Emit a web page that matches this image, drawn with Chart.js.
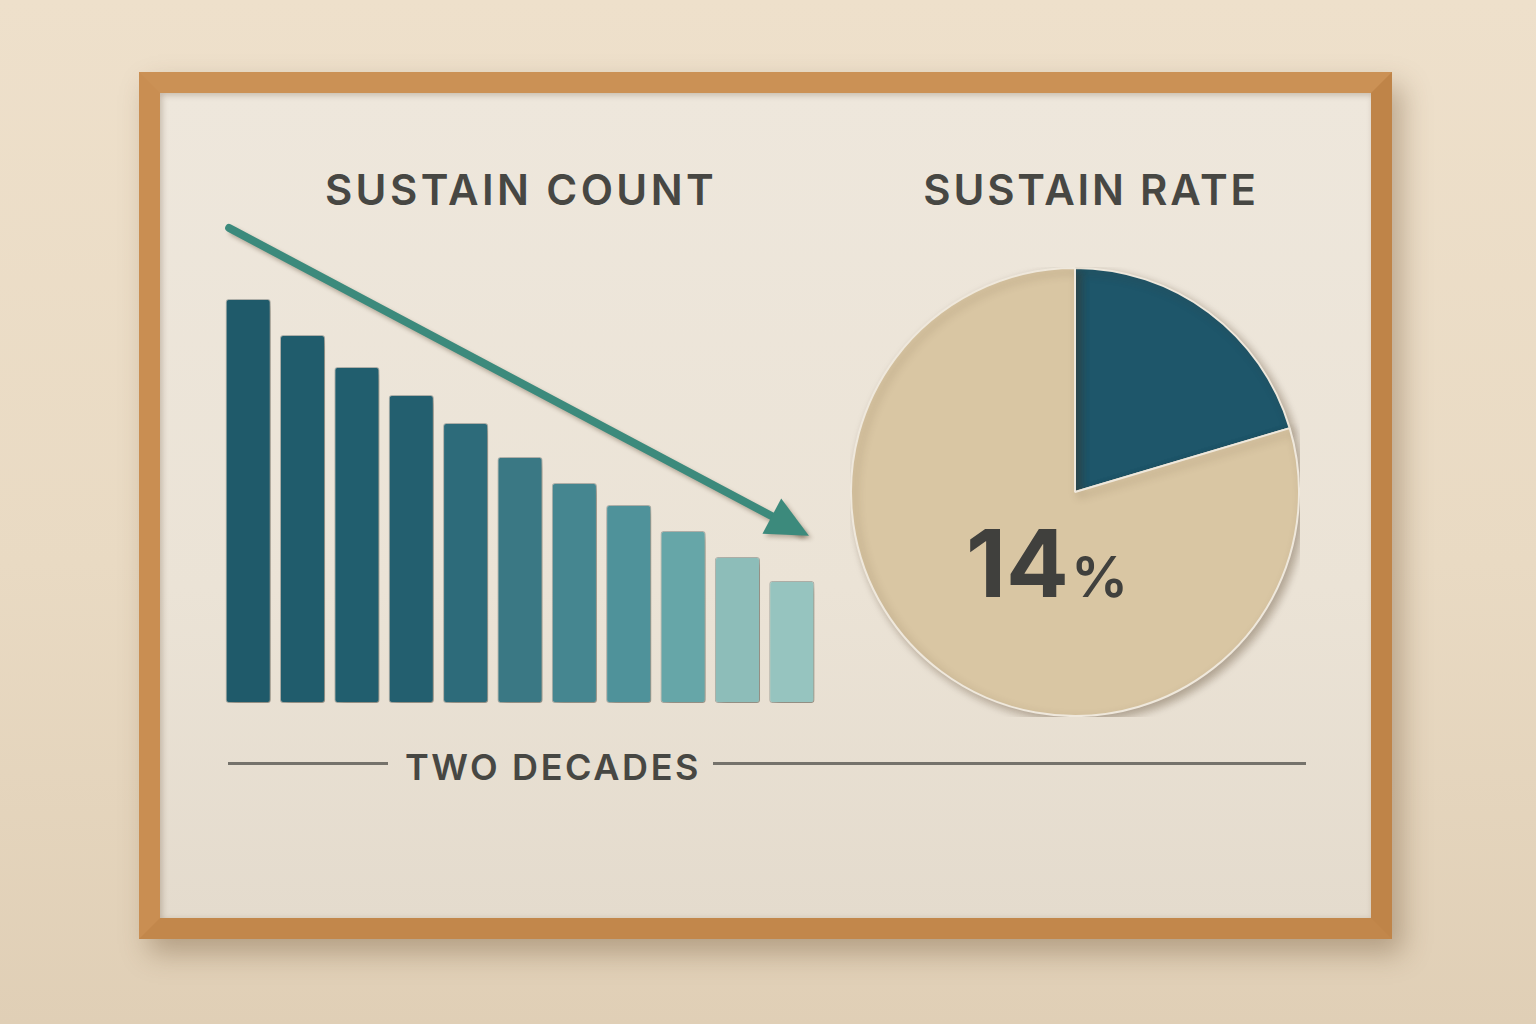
<!DOCTYPE html>
<html>
<head>
<meta charset="utf-8">
<script src="https://cdn.jsdelivr.net/npm/chart.js@4/dist/chart.umd.min.js"></script>
<style>
  html,body{margin:0;padding:0;}
  body{
    width:1536px;height:1024px;overflow:hidden;position:relative;
    background:linear-gradient(180deg,#eee0cb 0%,#e9dac3 55%,#e0cfb6 100%);
    font-family:Inter,"Open Sans",sans-serif;
  }
  .frame{
    position:absolute;left:139px;top:72px;width:1211px;height:825px;
    border:21px solid #c68a4f;
    border-top-color:#cb9155;border-left-color:#c98e52;
    border-right-color:#bf8448;border-bottom-color:#c2874b;
    background:linear-gradient(180deg,#eee7dc 0%,#ebe3d6 60%,#e4dbcd 100%);
    box-shadow:10px 14px 26px rgba(95,65,35,.35), inset 2px 2px 6px rgba(70,45,20,.25);
  }
  .title{
    position:absolute;font-size:42px;font-weight:600;line-height:1;color:#474743;
    text-align:center;white-space:nowrap;
  }
  .sub{
    position:absolute;font-size:36px;font-weight:600;line-height:1;color:#474743;
    letter-spacing:2.6px;white-space:nowrap;
  }
  .rule{position:absolute;height:3px;background:#75726b;}
  .pct{
    position:absolute;left:966px;top:517px;line-height:1;color:#40403d;white-space:nowrap;
    font-weight:700;font-size:93px;
  }
  .pct span{font-size:57px;font-weight:600;margin-left:2px;}
</style>
</head>
<body>
<div class="frame"></div>

<div class="title" style="left:318px;width:400px;top:169px;letter-spacing:3.4px;padding-left:3px;">SUSTAIN COUNT</div>
<div class="title" style="left:888px;width:400px;top:169px;letter-spacing:2.8px;padding-left:3px;">SUSTAIN RATE</div>

<div id="barWrap" style="position:absolute;left:221px;top:213px;width:598px;height:490px;"><canvas id="barChart"></canvas></div>
<div id="pieWrap" style="position:absolute;left:850px;top:267px;width:450px;height:450px;"><canvas id="pieChart"></canvas></div>

<div class="pct">14<span>%</span></div>

<div class="rule" style="left:228px;top:762px;width:160px;"></div>
<div class="sub" style="left:405px;top:749px;">TWO DECADES</div>
<div class="rule" style="left:713px;top:762px;width:593px;"></div>

<script>
// sustain count, eleven periods over two decades
const PERIODS = ['P1','P2','P3','P4','P5','P6','P7','P8','P9','P10','P11'];
const COUNTS = [101, 92, 84, 77, 70, 61.5, 55, 49.5, 43, 36.5, 30.5];
const BAR_COLORS = ['#1f5a6a','#205c6c','#215e6e','#235f6f','#2d6b7a','#3a7884','#458690','#4f929a','#66a6a8','#8dbdb9','#96c4bf'];

// trend arrow, start and end of shaft (x in category index units)
const ARROW = [{x:-0.35, y:118.75}, {x:10.12, y:43.2}];

// sustain rate split
const RATE_LABELS = ['Sustained','Not sustained'];
const RATE_VALUES = [20.4, 79.6];
const RATE_COLORS = ['#1e566a','#d9c6a3'];

const ARROW_COLOR = '#3c8a7c';

// soft drop shadow under marks
const shadowPlugin = {
  id:'shadow',
  beforeDatasetDraw(chart, args){
    const c = chart.ctx;
    c.save();
    c.shadowColor = 'rgba(70,50,25,0.35)';
    c.shadowBlur = args.meta.type === 'line' ? 4 : 8;
    c.shadowOffsetX = 4;
    c.shadowOffsetY = 4;
  },
  afterDatasetDraw(chart){ chart.ctx.restore(); }
};

// arrowhead just past the end of the trend line
const arrowHead = {
  id:'arrowHead',
  afterDatasetsDraw(chart){
    const meta = chart.getDatasetMeta(1);
    if(!meta || !meta.data || meta.data.length < 2) return;
    const a = meta.data[0], b = meta.data[meta.data.length-1];
    const ang = Math.atan2(b.y - a.y, b.x - a.x);
    const len = 42, half = 20, ahead = 12;
    const tx = b.x + ahead*Math.cos(ang), ty = b.y + ahead*Math.sin(ang);
    const c = chart.ctx;
    c.save();
    c.shadowColor = 'rgba(70,50,25,0.3)';
    c.shadowBlur = 4; c.shadowOffsetX = 3; c.shadowOffsetY = 3;
    c.fillStyle = ARROW_COLOR;
    c.beginPath();
    c.moveTo(tx, ty);
    const bx = tx - len*Math.cos(ang), by = ty - len*Math.sin(ang);
    c.lineTo(bx + half*Math.sin(ang), by - half*Math.cos(ang));
    c.lineTo(bx - half*Math.sin(ang), by + half*Math.cos(ang));
    c.closePath();
    c.fill();
    c.restore();
  }
};

new Chart(document.getElementById('barChart'), {
  type:'bar',
  data:{
    labels: PERIODS,
    datasets:[
      { label:'Sustain count', data: COUNTS, backgroundColor: BAR_COLORS,
        borderColor:'rgba(10,40,50,0.25)', borderWidth:1, borderRadius:3, borderSkipped:false,
        grouped:false, categoryPercentage:1, barPercentage:0.83, order:2 },
      { type:'line', label:'Trend', data: ARROW, xAxisID:'xa',
        borderColor: ARROW_COLOR, borderWidth:8, borderCapStyle:'round',
        pointRadius:0, fill:false, clip:false, order:1 }
    ]
  },
  options:{
    responsive:true, maintainAspectRatio:false, animation:false,
    layout:{ padding:0 },
    plugins:{ legend:{display:false}, tooltip:{enabled:false} },
    scales:{
      x:{ display:false, offset:true },
      xa:{ type:'linear', display:false, offset:false, min:-0.5, max:10.5 },
      y:{ display:false, min:0, max:122.5 }
    }
  },
  plugins:[shadowPlugin, arrowHead]
});

new Chart(document.getElementById('pieChart'), {
  type:'pie',
  data:{
    labels: RATE_LABELS,
    datasets:[{ data: RATE_VALUES, backgroundColor: RATE_COLORS,
      borderColor:'#efe8dc', borderWidth:2, hoverOffset:0 }]
  },
  options:{
    responsive:true, maintainAspectRatio:false, animation:false,
    layout:{ padding:0 },
    plugins:{ legend:{display:false}, tooltip:{enabled:false} }
  },
  plugins:[shadowPlugin]
});
</script>
</body>
</html>
